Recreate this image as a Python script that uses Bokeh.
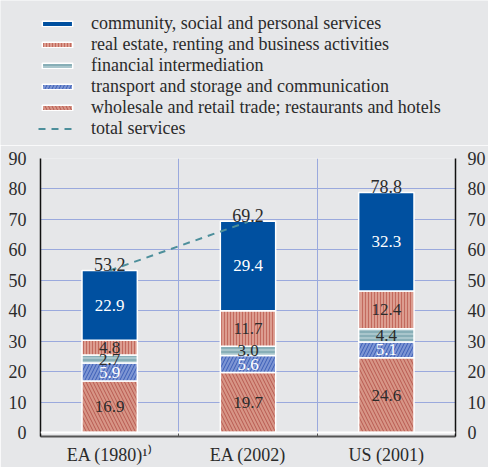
from bokeh.plotting import figure
from bokeh.models import (ColumnDataSource, FixedTicker, LinearAxis, Legend, LegendItem,
                          Range1d, Span, LabelSet)
from bokeh.core.properties import value
from bokeh.embed import file_html
from bokeh.resources import INLINE

# ---- data ----
categories = ["EA (1980)¹⁾", "EA (2002)", "US (2001)"]
wholesale = [16.9, 19.7, 24.6]
transport = [5.9, 5.6, 5.1]
financial = [2.7, 3.0, 4.4]
real_estate = [4.8, 11.7, 12.4]
community = [22.9, 29.4, 32.3]
totals = [53.2, 69.2, 78.8]
total_line_cats = [0, 1]          # total services line joins the two euro-area bars
y_ticks = [0, 10, 20, 30, 40, 50, 60, 70, 80, 90]
series_names = [
    "wholesale and retail trade; restaurants and hotels",
    "transport and storage and communication",
    "financial intermediation",
    "real estate, renting and business activities",
    "community, social and personal services",
]
series_values = [wholesale, transport, financial, real_estate, community]
line_name = "total services"

# ---- styles ----
BG = "#e6e7e9"
GRID = "#9aa9dd"
TXT = "#2b2b2b"
FONT = "Liberation Serif"
styles = [
    dict(fill="#d79586", hatch="\\", hatch_color="#b04a42", hatch_scale=7, hatch_weight=0.8, text="#2b2b2b"),
    dict(fill="#7d95d3", hatch="/", hatch_color="#2a4fae", hatch_scale=7, hatch_weight=0.8, text="#ffffff"),
    dict(fill="#a9c6cc", hatch="-", hatch_color="#6597a2", hatch_scale=4, hatch_weight=1, text="#2b2b2b"),
    dict(fill="#dc9d90", hatch="|", hatch_color="#c36a5e", hatch_scale=3, hatch_weight=1, text="#2b2b2b"),
    dict(fill="#0050a0", hatch=None, hatch_color="#0050a0", hatch_scale=6, hatch_weight=1, text="#ffffff"),
]
LINE_COLOR = "#4d8f9b"
LINE_KW = dict(line_color=LINE_COLOR, line_width=2, line_dash="7 6")

W = 488
LEG_H = 145
MAIN_H = 467 - LEG_H

xs = [i + 0.5 for i in range(len(categories))]


def bar_kw(st):
    kw = dict(fill_color=st["fill"], line_color="white", line_width=1.5)
    if st["hatch"]:
        kw.update(hatch_pattern=st["hatch"], hatch_color=st["hatch_color"],
                  hatch_scale=st["hatch_scale"], hatch_weight=st["hatch_weight"])
    return kw


# ================= main chart =================
p = figure(width=W, height=MAIN_H, x_range=Range1d(0, 3), y_range=Range1d(-1.3, 90),
           output_backend="svg", toolbar_location=None,
           background_fill_color=BG, border_fill_color=BG, outline_line_color=None,
           min_border_left=40, min_border_right=24, min_border_top=13, min_border_bottom=24)

p.ygrid.ticker = FixedTicker(ticks=[t for t in y_ticks if t > 0])
p.xgrid.ticker = FixedTicker(ticks=[1, 2])
p.grid.grid_line_color = GRID
p.grid.grid_line_width = 1
p.add_layout(Span(location=0, dimension="width", line_color="white", line_width=2))

bottoms = [0.0] * len(categories)
label_x, label_y, label_t, label_c = [], [], [], []
for name, vals, st in zip(series_names, series_values, styles):
    tops = [b + v for b, v in zip(bottoms, vals)]
    src = ColumnDataSource(dict(x=xs, bottom=bottoms, top=tops))
    p.vbar(x="x", bottom="bottom", top="top", width=0.4, source=src, **bar_kw(st))
    for x, b, t, v in zip(xs, bottoms, tops, vals):
        label_x.append(x)
        label_y.append((b + t) / 2)
        label_t.append(f"{v:.1f}")
        label_c.append(st["text"])
    bottoms = tops

lab_src = ColumnDataSource(dict(x=label_x, y=label_y, text=label_t, color=label_c))
p.add_layout(LabelSet(x="x", y="y", text="text", source=lab_src, text_color="color",
                      text_align="center", text_baseline="middle",
                      text_font=value(FONT), text_font_size="17px"))

tot_src = ColumnDataSource(dict(x=xs, y=totals, text=[f"{t:.1f}" for t in totals]))
p.add_layout(LabelSet(x="x", y="y", text="text", source=tot_src, text_color=TXT,
                      text_align="center", text_baseline="bottom",
                      text_font=value(FONT), text_font_size="18px"))

p.line(x=[xs[i] for i in total_line_cats], y=[totals[i] for i in total_line_cats], **LINE_KW)


def style_y(ax, standoff):
    ax.ticker = FixedTicker(ticks=y_ticks)
    ax.axis_line_color = "#111111"
    ax.axis_line_width = 1.5
    ax.major_tick_line_color = None
    ax.minor_tick_line_color = None
    ax.major_label_text_font = FONT
    ax.major_label_text_font_size = "18px"
    ax.major_label_text_color = TXT
    ax.major_label_standoff = standoff


style_y(p.yaxis[0], 8)
ry = LinearAxis()
style_y(ry, 6)
p.add_layout(ry, "right")

xa = p.xaxis[0]
xa.ticker = FixedTicker(ticks=xs, minor_ticks=[0, 1, 2, 3])
xa.major_label_overrides = {x: c for x, c in zip(xs, categories)}
xa.major_tick_line_color = None
xa.minor_tick_in = 4
xa.minor_tick_out = 0
xa.minor_tick_line_color = "#555555"
xa.axis_line_color = "#555555"
xa.axis_line_width = 2
xa.major_label_text_font = FONT
xa.major_label_text_font_size = "18px"
xa.major_label_text_color = TXT
xa.major_label_standoff = 2

# ================= legend strip (separate root, so frames are not aligned) =================
lg = figure(width=W, height=LEG_H, x_range=Range1d(0, 1), y_range=Range1d(0, 1),
            output_backend="svg", toolbar_location=None, x_axis_type=None, y_axis_type=None,
            background_fill_color=BG, border_fill_color=BG, outline_line_color=None,
            min_border=0)
lg.grid.visible = False
items = []
for i in [4, 3, 2, 1, 0]:
    r = lg.vbar(x=[5], bottom=[5], top=[6], width=0.1, **bar_kw(styles[i]))
    items.append(LegendItem(label=series_names[i], renderers=[r]))
lr = lg.line(x=[5, 6], y=[5, 6], **LINE_KW)
items.append(LegendItem(label=line_name, renderers=[lr]))
legend = Legend(items=items, location=(38, 6), orientation="vertical",
                background_fill_alpha=0, border_line_alpha=0,
                label_text_font=FONT, label_text_font_size="18px", label_text_color=TXT,
                glyph_width=38, glyph_height=7, label_height=21, spacing=0,
                padding=0, margin=0, label_standoff=15)
lg.add_layout(legend, "center")

open("out.html", "w").write(file_html([lg, p], INLINE))
